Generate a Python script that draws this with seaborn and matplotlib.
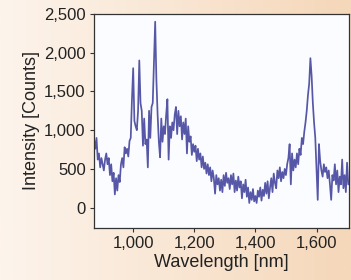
import numpy as np
import pandas as pd
import matplotlib
matplotlib.use("Agg")
import matplotlib.pyplot as plt
from matplotlib.colors import LinearSegmentedColormap
import seaborn as sns

# ---- data (wavelength grid starts at 872 nm, 4 nm step) ----
start_nm = 872
step_nm = 4
intensity = [
    880, 760, 900, 620, 700, 520, 640, 560, 480, 620,
    700, 560, 640, 420, 560, 340, 450, 170, 380, 220,
    420, 330, 560, 640, 520, 780, 700, 760, 660, 860,
    900, 1400, 1800, 1120, 1050, 1000, 1250, 1900, 1350, 1250,
    800, 1150, 820, 880, 520, 1250, 900, 1300, 1350, 1900,
    2400, 1650, 1200, 850, 650, 1150, 850, 1050, 950, 1200,
    1400, 620, 1050, 900, 1100, 1000, 1200, 1300, 950, 1250,
    1050, 1180, 880, 1100, 950, 1150, 700, 1050, 850, 920,
    680, 820, 720, 800, 600, 760, 620, 700, 520, 660,
    500, 580, 440, 560, 420, 520, 340, 480, 380, 180,
    420, 300, 380, 220, 360, 200, 420, 280, 450, 320,
    380, 240, 420, 300, 440, 200, 350, 220, 400, 260,
    340, 120, 300, 200, 360, 140, 260, 60, 200, 100,
    240, 80, 150, 60, 220, 140, 260, 90, 230, 150,
    320, 180, 340, 120, 260, 380, 200, 440, 320, 250,
    480, 380, 520, 340, 460, 380, 500, 420, 560, 640,
    820, 300, 700, 480, 620, 520, 700, 560, 760, 680,
    900, 820, 980, 1100, 1250, 1450, 1600, 1930, 1700, 1350,
    1100, 900, 500, 100, 820, 600, 480, 400, 560, 460,
    520, 380, 480, 300, 100, 420, 350, 560, 300, 480,
    200, 400, 300, 620, 250, 420, 200, 580, 300,
]
wavelength = start_nm + step_nm * np.arange(len(intensity))

x_ticks = [1000, 1200, 1400, 1600]
y_ticks = [0, 500, 1000, 1500, 2000, 2500]

df = pd.DataFrame({"Wavelength": wavelength, "Intensity": intensity})

# ================== STYLE ==================
sns.set_style("ticks")
plt.rcParams["font.family"] = ["Liberation Sans", "DejaVu Sans"]

fig = plt.figure(figsize=(3.51, 2.80), dpi=100)

# peach gradient background
bg = fig.add_axes([0, 0, 1, 1], zorder=-10)
cmap = LinearSegmentedColormap.from_list("peach", ["#fdf4ec", "#f9e6d3", "#f5d7b9"])
grad = np.linspace(0, 1, 256).reshape(1, -1)
bg.imshow(grad, aspect="auto", cmap=cmap, extent=[0, 1, 0, 1])
bg.axis("off")

ax = fig.add_axes([0.268, 0.186, 0.726, 0.764])
ax.set_facecolor("#fbfcff")

sns.lineplot(data=df, x="Wavelength", y="Intensity", ax=ax,
             color="#3a3a98", linewidth=1.25, alpha=0.85)

ax.set_xlim(872, 1706)
ax.set_ylim(-262, 2500)
ax.set_xticks(x_ticks)
ax.set_yticks(y_ticks)
ax.set_xticklabels([f"{t:,}" for t in x_ticks])
ax.set_yticklabels([f"{t:,}" for t in y_ticks])
ax.tick_params(labelsize=12, length=3, width=0.8, color="#333333",
               labelcolor="#222222", pad=3)
ax.set_xlabel("Wavelength [nm]", fontsize=13, color="#222222", labelpad=2)
ax.set_ylabel("Intensity [Counts]", fontsize=13, color="#222222", labelpad=3)

for side in ["top", "right", "left", "bottom"]:
    ax.spines[side].set_visible(True)
    ax.spines[side].set_color("#333333")
    ax.spines[side].set_linewidth(0.9)

fig.savefig("out.png", dpi=100)
